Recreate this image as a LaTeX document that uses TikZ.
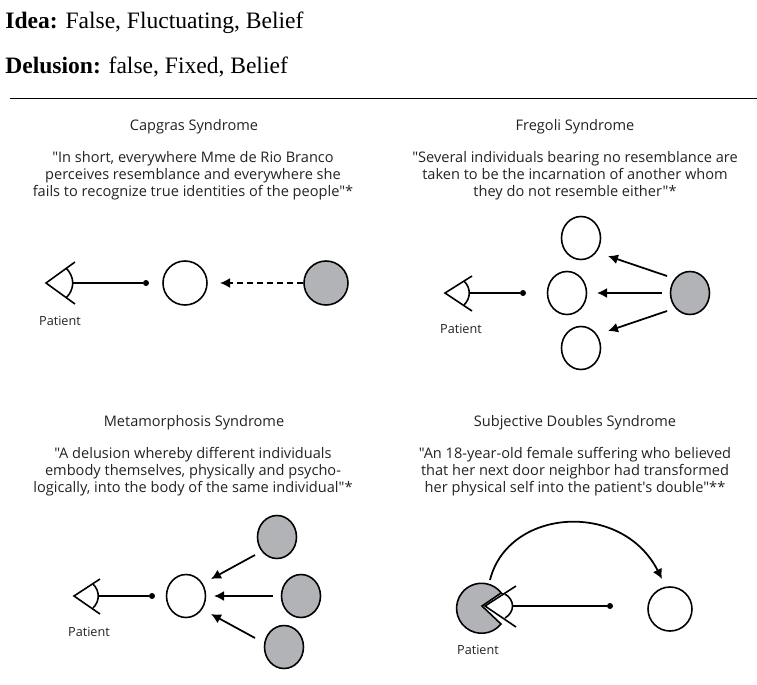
\documentclass[tikz,border=0pt]{standalone}
\usepackage{fontspec}
\setmainfont{Liberation Serif}
\newfontfamily\capfont{Open Sans}
\usetikzlibrary{arrows.meta,shapes.geometric,positioning}
\tikzset{
  round node/.style={ellipse,draw,line width=0.9pt,inner sep=0pt,minimum width=0.78cm,minimum height=0.86cm},
  big node/.style={round node,minimum width=0.88cm,minimum height=0.88cm},
  grey/.style={fill=shade},
  dot node/.style={circle,fill=black,inner sep=0pt,minimum width=0.12cm},
  caption/.style={align=center,font=\capfont\fontsize{8.3}{9.65}\selectfont,text=ink},
  patient/.style={font=\capfont\fontsize{7.2}{8}\selectfont,text=ink},
  heading/.style={anchor=west,inner sep=0pt,font=\fontsize{13.4}{15}\selectfont},
  eye line/.style={line width=0.9pt},
  link/.style={line width=1pt,-{Latex[length=0.2cm,width=0.2cm]}},
}
\definecolor{shade}{HTML}{B2B3B6}
\definecolor{ink}{HTML}{222222}
\begin{document}
\begin{tikzpicture}[x=0.02cm,y=-0.02cm]
    \useasboundingbox (0,0) rectangle (757,684);
    \node [heading] (idea) at (5,23) {\textbf{Idea:} False, Fluctuating, Belief};
    \node [heading] (delusion) at (5,67) {\textbf{Delusion:} false, Fixed, Belief};
    \coordinate (r1) at (10,98);
    \coordinate (r2) at (757,98);
    \draw[line width=0.55pt] (r1) -- (r2);
    % Capgras
    \node [caption] (t1) at (194,127) {Capgras Syndrome};
    \node [caption] (q1) at (193,176) {"In short, everywhere Mme de Rio Branco\\perceives resemblance and everywhere she\\fails to recognize true identities of the people"*};
    \node [big node] (c1) at (185,283) {};
    \node [big node,grey] (g1) at (326,283) {};
    \node [dot node] (d1) at (146,283) {};
    \node [patient] (p1) at (60,321) {Patient};
    \coordinate (a1) at (46,283);
    \coordinate (u1) at (75,262);
    \coordinate (v1) at (75,304);
    \coordinate (e1) at (73,283);
    \draw[eye line] (u1) -- (a1) -- (v1);
    \draw[eye line] (66,268) .. controls (75,277) and (75,289) .. (66,298);
    \draw[eye line] (e1) -- (d1);
    \coordinate (h1) at (220,283);
    \draw[link,dash pattern=on 0.12cm off 0.08cm] (g1) -- (h1);
    % Fregoli
    \node [caption] (t2) at (575,127) {Fregoli Syndrome};
    \node [caption] (q2) at (575,176) {"Several individuals bearing no resemblance are\\taken to be the incarnation of another whom\\they do not resemble either"*};
    \node [round node] (c2) at (581,238) {};
    \node [round node] (c3) at (567,293) {};
    \node [round node] (c4) at (581,348) {};
    \node [round node,grey] (g2) at (690,293) {};
    \node [dot node] (d2) at (523,293) {};
    \node [patient] (p2) at (461,329) {Patient};
    \coordinate (a2) at (445,293);
    \coordinate (u2) at (472,276);
    \coordinate (v2) at (472,311);
    \coordinate (e2) at (469,293);
    \draw[eye line] (u2) -- (a2) -- (v2);
    \draw[eye line] (464,281) .. controls (471,288) and (471,298) .. (464,305);
    \draw[eye line] (e2) -- (d2);
    \coordinate (s2) at (667,276);
    \coordinate (h2) at (608,256);
    \coordinate (s3) at (662,293);
    \coordinate (h3) at (597,293);
    \coordinate (s4) at (667,311);
    \coordinate (h4) at (608,331);
    \draw[link] (s2) -- (h2);
    \draw[link] (s3) -- (h3);
    \draw[link] (s4) -- (h4);
    % Metamorphosis
    \node [caption] (t3) at (194,423) {Metamorphosis Syndrome};
    \node [caption] (q3) at (193,472) {"A delusion whereby different individuals\\embody themselves, physically and psycho-\\logically, into the body of the same individual"*};
    \node [round node] (c5) at (186,596) {};
    \node [round node,grey] (g3) at (277,537) {};
    \node [round node,grey] (g4) at (301,596) {};
    \node [round node,grey] (g5) at (284,647) {};
    \node [dot node] (d3) at (152,596) {};
    \node [patient] (p3) at (89,632) {Patient};
    \coordinate (a3) at (74,596);
    \coordinate (u3) at (100,579);
    \coordinate (v3) at (100,614);
    \coordinate (e3) at (98,596);
    \draw[eye line] (u3) -- (a3) -- (v3);
    \draw[eye line] (93,584) .. controls (100,591) and (100,601) .. (93,608);
    \draw[eye line] (e3) -- (d3);
    \coordinate (s5) at (255,555);
    \coordinate (h5) at (211,579);
    \coordinate (s6) at (273,596);
    \coordinate (h6) at (214,596);
    \coordinate (s7) at (255,638);
    \coordinate (h7) at (211,614);
    \draw[link] (s5) -- (h5);
    \draw[link] (s6) -- (h6);
    \draw[link] (s7) -- (h7);
    % Subjective Doubles
    \node [caption] (t4) at (575,423) {Subjective Doubles Syndrome};
    \node [caption] (q4) at (575,472) {"An 18-year-old female suffering who believed\\that her next door neighbor had transformed\\her physical self into the patient's double"**};
    \node [big node] (c6) at (670,609) {};
    \node [dot node] (d4) at (610,606) {};
    \node [patient] (p4) at (478,650) {Patient};
    \draw[line width=0.9pt,fill=shade] (501,593) -- (482,606) -- (501,624) arc[start angle=321,end angle=37,radius=0.5cm] -- cycle;
    \coordinate (a4) at (485,606);
    \coordinate (u4) at (516,586);
    \coordinate (v4) at (516,627);
    \coordinate (e4) at (513,606);
    \draw[eye line] (u4) -- (a4) -- (v4);
    \draw[eye line] (505,594) .. controls (515,600) and (515,612) .. (505,618);
    \draw[eye line] (e4) -- (d4);
    \coordinate (s8) at (490,580);
    \coordinate (h8) at (662,579);
    \draw[link] (s8) .. controls (508,508) and (622,500) .. (h8);
\end{tikzpicture}
\end{document}
